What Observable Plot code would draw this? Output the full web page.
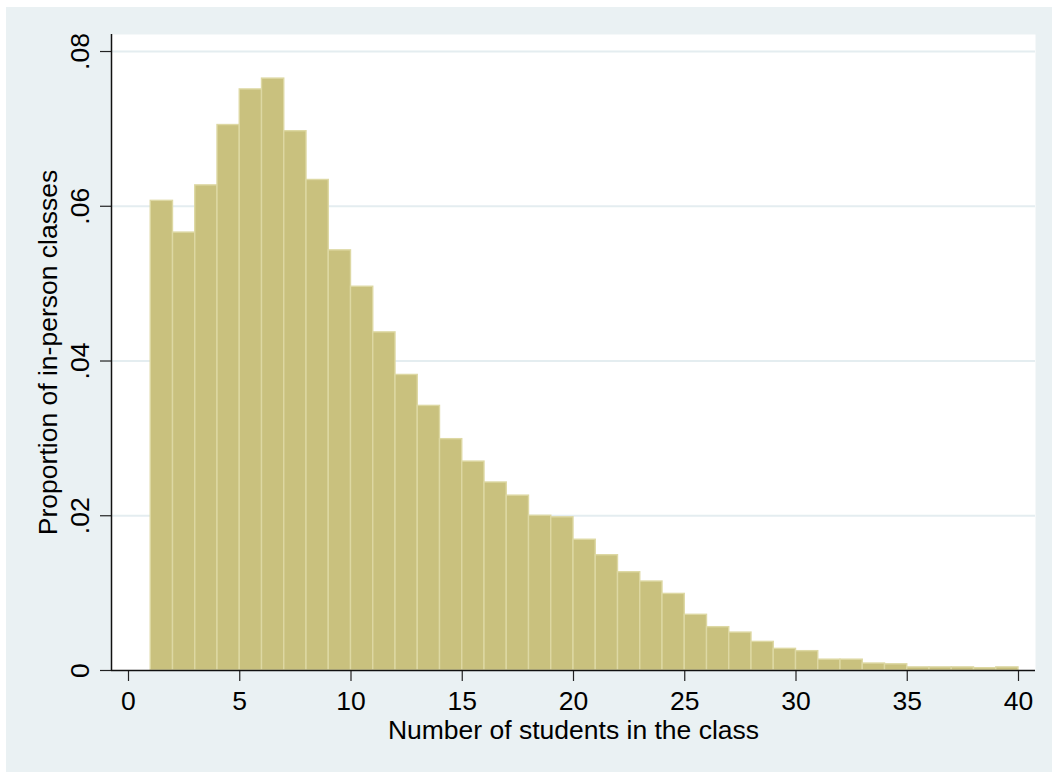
<!DOCTYPE html>
<html>
<head>
<meta charset="utf-8">
<script src="https://cdn.jsdelivr.net/npm/d3@7"></script>
<script src="https://cdn.jsdelivr.net/npm/@observablehq/plot@0.6"></script>
<style>
  html, body { margin: 0; padding: 0; background: #ffffff; }
  #wrap { position: absolute; left: 6px; top: 7px; width: 1046px; height: 765px; background: #eaf1f3; }
</style>
</head>
<body>
<div id="wrap"></div>
<script>
// Histogram bins: class size (bin start, width 1)
const classSizes = [1,2,3,4,5,6,7,8,9,10,11,12,13,14,15,16,17,18,19,20,21,22,23,24,25,26,27,28,29,30,31,32,33,34,35,36,37,38,39];
// Proportion of in-person classes in each bin
const proportions = [
  0.0607, 0.0566, 0.0627, 0.0705, 0.0751, 0.0765, 0.0697, 0.0634, 0.0543, 0.0496,
  0.0437, 0.0382, 0.0342, 0.0299, 0.0270, 0.0243, 0.0226, 0.0200, 0.0198, 0.0169,
  0.0149, 0.0127, 0.0115, 0.0099, 0.0072, 0.0056, 0.0049, 0.0037, 0.0028, 0.0025,
  0.0014, 0.0014, 0.0009, 0.0008, 0.0004, 0.0004, 0.0004, 0.0003, 0.0004
];
const xTicks = [0, 5, 10, 15, 20, 25, 30, 35, 40];
const yTicks = [0, 0.02, 0.04, 0.06, 0.08];
const yTickLabels = ["0", ".02", ".04", ".06", ".08"];
const gridValues = [0.02, 0.04, 0.06, 0.08];
const xLabel = "Number of students in the class";
const yLabel = "Proportion of in-person classes";

const bins = classSizes.map((s, i) => ({x1: s, x2: s + 1, y: proportions[i]}));

const chart = Plot.plot({
  width: 1046,
  height: 765,
  marginLeft: 105,
  marginRight: 17,
  marginTop: 27,
  marginBottom: 102,
  style: {
    fontFamily: "'Liberation Sans', Arial, sans-serif",
    fontSize: "26.5px",
    background: "transparent",
    color: "#000",
    overflow: "visible"
  },
  x: {domain: [-0.764, 40.764]},
  y: {domain: [0, 0.0822]},
  marks: [
    Plot.frame({fill: "#ffffff", stroke: null}),
    Plot.ruleY(gridValues, {stroke: "#e4edf0", strokeWidth: 2}),
    Plot.rectY(bins, {x1: "x1", x2: "x2", y: "y", fill: "#c9c17e", stroke: "#ddd8a3", strokeWidth: 1.4}),
    Plot.axisX({
      ticks: xTicks,
      tickSize: 11,
      tickPadding: 10,
      stroke: "#222",
      strokeWidth: 1.2,
      label: xLabel,
      labelAnchor: "center",
      labelArrow: "none",
      labelOffset: 68
    }),
    Plot.axisY({
      ticks: yTicks,
      tickFormat: (d) => yTickLabels[yTicks.indexOf(d)],
      tickSize: 11,
      tickPadding: 12,
      tickRotate: -90,
      stroke: "#222",
      strokeWidth: 1.2,
      label: yLabel,
      labelAnchor: "center",
      labelArrow: "none",
      labelOffset: 73
    }),
    Plot.ruleX([-0.764], {stroke: "#111", strokeWidth: 1.5}),
    Plot.ruleY([0], {stroke: "#111", strokeWidth: 1.5, x1: -0.764, x2: 40.764})
  ]
});
document.getElementById("wrap").appendChild(chart);
</script>
</body>
</html>
